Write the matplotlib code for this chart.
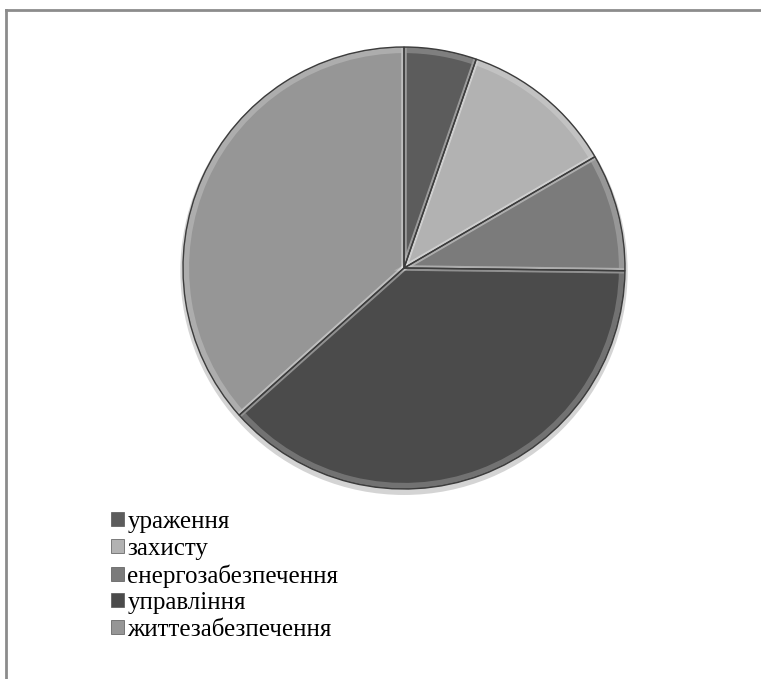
import matplotlib
matplotlib.use("Agg")
import matplotlib.pyplot as plt
from matplotlib.patches import Patch
from matplotlib.lines import Line2D

# data (share of the pie, %)
labels = ["ураження", "захисту", "енергозабезпечення", "управління", "життезабезпечення"]
values = [5.3, 11.3, 8.6, 38.2, 36.6]
colors = ["#5c5c5c", "#b2b2b2", "#7b7b7b", "#4b4b4b", "#969696"]

W, H = 761, 679
fig = plt.figure(figsize=(W / 100, H / 100), dpi=100)
fig.patch.set_facecolor("white")

# pie centre ~ (404, 268) px, radius ~ 221 px
cx, cy, r = 404, 268, 221
ax = fig.add_axes([(cx - r) / W, (H - cy - r) / H, 2 * r / W, 2 * r / H])

# soft shadow
ax.pie([1], radius=1.012, colors=["#d4d4d4"], center=(0.0, -0.015),
       wedgeprops=dict(linewidth=0))

# base wedges
wedges, _ = ax.pie(values, colors=colors, startangle=90, counterclock=False,
                   wedgeprops=dict(linewidth=0))

# light bevel just inside the edges
ax.pie(values, colors=["none"] * 5, startangle=90, counterclock=False, radius=0.985,
       wedgeprops=dict(edgecolor=(1, 1, 1, 0.22), linewidth=4, fill=False))
# dark separator lines
ax.pie(values, colors=["none"] * 5, startangle=90, counterclock=False,
       wedgeprops=dict(edgecolor="#3c3c3c", linewidth=1.0, fill=False))

ax.set_xlim(-1, 1)
ax.set_ylim(-1, 1)
ax.set_aspect("equal")
ax.axis("off")

# frame (top + left border visible)
fig.add_artist(Line2D([6 / W, 6 / W], [0, 1 - 10 / H], transform=fig.transFigure,
                      color="#8c8c8c", linewidth=2))
fig.add_artist(Line2D([6 / W, 1], [1 - 10 / H, 1 - 10 / H], transform=fig.transFigure,
                      color="#8c8c8c", linewidth=2))

handles = [Patch(facecolor=c, edgecolor="#555555", linewidth=0.5) for c in colors]
fig.legend(handles, labels, loc="upper left", bbox_to_anchor=(111 / W, 1 - 511 / H),
           frameon=False, prop=dict(family="Liberation Serif", size=18),
           handlelength=0.5, handleheight=0.5, handletextpad=0.15,
           labelspacing=0.18, borderpad=0, borderaxespad=0)

fig.savefig("out.png", dpi=100, facecolor="white")
